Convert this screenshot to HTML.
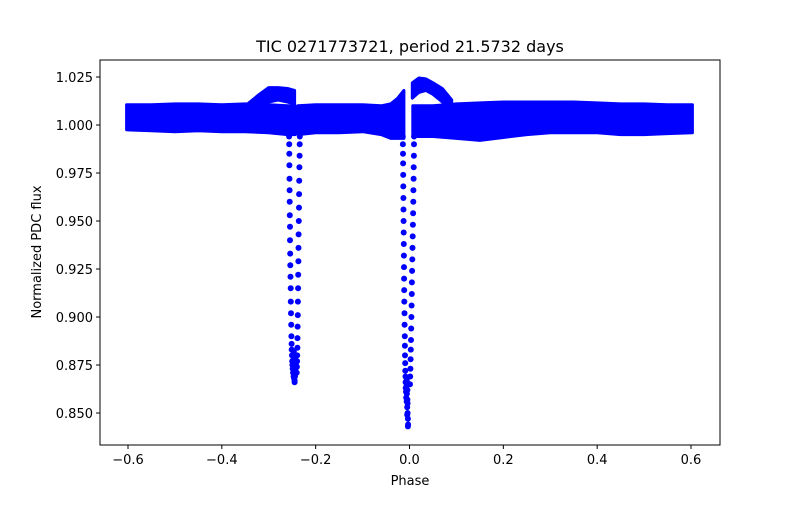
<!DOCTYPE html>
<html><head><meta charset="utf-8"><style>
body{margin:0;background:#fff;}
svg text{font-family:"DejaVu Sans","Liberation Sans",sans-serif;fill:#000;}
</style></head><body>
<svg id="chart" width="800" height="500">
<rect width="800" height="500" fill="#fff"/>
<g id="marks"></g>
<g id="axes"></g>
<text x="410" y="52" font-size="16" text-anchor="middle">TIC 0271773721, period 21.5732 days</text>
<text x="410" y="485" font-size="13" text-anchor="middle">Phase</text>
<text transform="translate(41,252) rotate(-90)" font-size="13" text-anchor="middle">Normalized PDC flux</text>
</svg>
<script>
const xTicks=[-0.6,-0.4,-0.2,0.0,0.2,0.4,0.6];
const xTickLabels=["\u22120.6","\u22120.4","\u22120.2","0.0","0.2","0.4","0.6"];
const yTicks=[0.850,0.875,0.900,0.925,0.950,0.975,1.000,1.025];
const yTickLabels=["0.850","0.875","0.900","0.925","0.950","0.975","1.000","1.025"];
// band envelopes (phase, upper flux, lower flux)
const bandAPhase=[-0.603,-0.55,-0.5,-0.45,-0.4,-0.35,-0.3,-0.26,-0.244];
const bandAHi=[1.0105,1.0105,1.011,1.011,1.0105,1.011,1.0105,1.010,1.010];
const bandALo=[0.9975,0.997,0.9965,0.997,0.9965,0.9965,0.996,0.995,0.995];
const bumpAPhase=[-0.345,-0.32,-0.30,-0.28,-0.26,-0.245];
const bumpAHi=[1.011,1.016,1.0195,1.0195,1.019,1.018];
const bumpALo=[1.008,1.010,1.012,1.013,1.012,1.011];
const bandBPhase=[-0.238,-0.2,-0.15,-0.1,-0.06,-0.04,-0.025,-0.012];
const bandBHi=[1.010,1.0105,1.0105,1.0105,1.010,1.011,1.014,1.018];
const bandBLo=[0.995,0.996,0.996,0.9965,0.995,0.993,0.993,0.993];
const bandCPhase=[0.007,0.05,0.1,0.15,0.2,0.25,0.3,0.35,0.4,0.45,0.5,0.55,0.603];
const bandCHi=[1.010,1.010,1.011,1.0115,1.012,1.012,1.012,1.012,1.0115,1.011,1.011,1.0105,1.0105];
const bandCLo=[0.994,0.994,0.993,0.992,0.9935,0.995,0.996,0.996,0.996,0.995,0.995,0.9955,0.996];
const bumpCPhase=[0.006,0.02,0.035,0.05,0.07,0.09];
const bumpCHi=[1.022,1.0245,1.024,1.022,1.019,1.013];
const bumpCLo=[1.014,1.017,1.018,1.016,1.012,1.008];
// primary/secondary dip points
const dip1Phase=[-0.2567,-0.2565,-0.2563,-0.2560,-0.2558,-0.2556,-0.2553,-0.2551,-0.2548,-0.2546,-0.2543,-0.2540,-0.2537,-0.2533,-0.2530,-0.2526,-0.2522,-0.2518,-0.2514,-0.2510,-0.2505,-0.2500,-0.2495,-0.2490,
 -0.2338,-0.2340,-0.2343,-0.2347,-0.2350,-0.2353,-0.2356,-0.2360,-0.2363,-0.2366,-0.2369,-0.2372,-0.2375,-0.2378,-0.2381,-0.2384,-0.2387,-0.2390,-0.2393,-0.2396,-0.2400,-0.2405,
 -0.2480,-0.2470,-0.2460,-0.2450,-0.2440,-0.2430,-0.2420,-0.2475,-0.2455,-0.2445,-0.2435,-0.2465,-0.2448];
const dip1Flux=[0.994,0.990,0.985,0.979,0.972,0.966,0.960,0.953,0.947,0.940,0.933,0.927,0.921,0.915,0.908,0.902,0.896,0.890,0.886,0.883,0.880,0.877,0.875,0.873,
 0.994,0.990,0.984,0.978,0.971,0.964,0.957,0.950,0.943,0.936,0.929,0.922,0.915,0.908,0.901,0.895,0.889,0.884,0.880,0.877,0.874,0.871,
 0.871,0.869,0.868,0.867,0.869,0.872,0.875,0.879,0.876,0.873,0.878,0.882,0.866];
const dip2Phase=[-0.0142,-0.0140,-0.0138,-0.0136,-0.0134,-0.0132,-0.0130,-0.0128,-0.0126,-0.0124,-0.0122,-0.0120,-0.0118,-0.0116,-0.0113,-0.0110,-0.0107,-0.0104,-0.0101,-0.0098,-0.0095,-0.0092,-0.0089,-0.0086,-0.0083,-0.0080,
 0.0098,0.0096,0.0093,0.0090,0.0087,0.0084,0.0080,0.0076,0.0072,0.0068,0.0064,0.0060,0.0056,0.0052,0.0048,0.0044,0.0040,0.0036,0.0032,0.0028,0.0024,0.0020,0.0015,0.0010,
 -0.0075,-0.0070,-0.0065,-0.0060,-0.0055,-0.0050,-0.0045,-0.0040,-0.0035,-0.0030,-0.0060,-0.0045,-0.0040,-0.0050,-0.0035];
const dip2Flux=[0.994,0.990,0.985,0.980,0.974,0.968,0.962,0.956,0.950,0.944,0.938,0.932,0.926,0.920,0.914,0.908,0.902,0.896,0.890,0.885,0.880,0.876,0.872,0.869,0.866,0.863,
 0.994,0.990,0.984,0.978,0.972,0.966,0.960,0.954,0.948,0.942,0.936,0.930,0.924,0.918,0.912,0.906,0.900,0.894,0.888,0.883,0.878,0.873,0.869,0.865,
 0.861,0.858,0.864,0.856,0.860,0.853,0.857,0.850,0.847,0.844,0.867,0.862,0.855,0.849,0.843];

const X0=100,X1=720,Y0=60,Y1=445;
function xs(p){return 409.5+p*469.17;}
function ys(f){return 125-(f-1.0)*1920;}
const NS="http://www.w3.org/2000/svg";
const marks=document.getElementById('marks');
const axes=document.getElementById('axes');
function mk(tag,attrs,parent){const e=document.createElementNS(NS,tag);for(const k in attrs)e.setAttribute(k,attrs[k]);parent.appendChild(e);return e;}

function band(ph,hi,lo,name){
  let pts=[];
  for(let i=0;i<ph.length;i++)pts.push(xs(ph[i]).toFixed(1)+","+ys(hi[i]).toFixed(1));
  for(let i=ph.length-1;i>=0;i--)pts.push(xs(ph[i]).toFixed(1)+","+ys(lo[i]).toFixed(1));
  const e=mk('polygon',{points:pts.join(" "),fill:"#0000ff",stroke:"#0000ff","stroke-width":"3","stroke-linejoin":"round"},marks);
  
  
}
band(bandAPhase,bandAHi,bandALo,'flux-band-left');
band(bumpAPhase,bumpAHi,bumpALo,'flux-bump-left');
band(bandBPhase,bandBHi,bandBLo,'flux-band-middle');
band(bandCPhase,bandCHi,bandCLo,'flux-band-right');
band(bumpCPhase,bumpCHi,bumpCLo,'flux-bump-right');
function dots(ph,fl,name){
  const n=Math.min(ph.length,fl.length);
  for(let i=0;i<n;i++){
    const c=mk('circle',{cx:xs(ph[i]).toFixed(1),cy:ys(fl[i]).toFixed(1),r:"3",fill:"#0000ff"},marks);
    
    
  }
}
dots(dip1Phase,dip1Flux,'primary-dip-point');
dots(dip2Phase,dip2Flux,'secondary-dip-point');

const frame=mk('rect',{x:X0,y:Y0,width:X1-X0,height:Y1-Y0,fill:"none",stroke:"#000","stroke-width":"1"},axes);


xTicks.forEach((t,i)=>{
  const x=xs(t);
  mk('line',{x1:x,x2:x,y1:Y1,y2:Y1+4,stroke:"#000"},axes);
  const tx=mk('text',{x:x,y:Y1+19,"font-size":"13","text-anchor":"middle"},axes);
  tx.textContent=xTickLabels[i];
  
  
});
yTicks.forEach((t,i)=>{
  const y=ys(t);
  mk('line',{x1:X0-4,x2:X0,y1:y,y2:y,stroke:"#000"},axes);
  const tx=mk('text',{x:X0-7,y:y+5,"font-size":"13","text-anchor":"end"},axes);
  tx.textContent=yTickLabels[i];
  
  
});
</script>
</body></html>
